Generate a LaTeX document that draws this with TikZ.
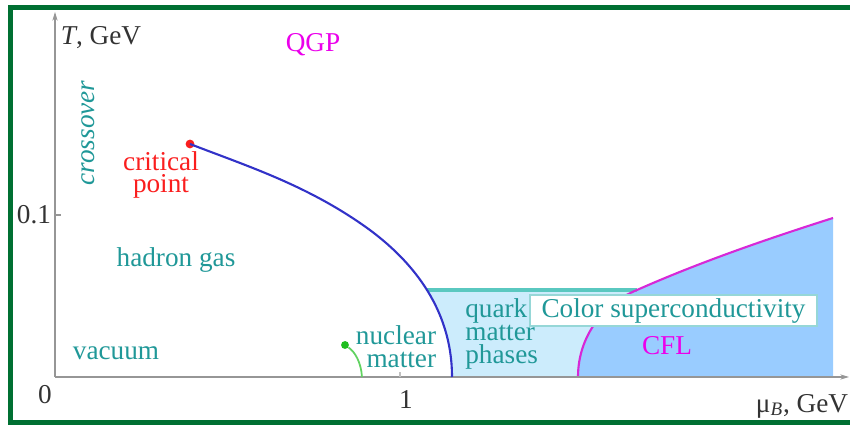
\documentclass[tikz,border=0pt]{standalone}
\usepackage{fontspec}
\setmainfont{Liberation Serif}
\usetikzlibrary{arrows.meta, positioning}

\definecolor{framegreen}{RGB}{0,112,50}
\definecolor{tealtxt}{RGB}{32,152,152}
\definecolor{qline}{RGB}{90,200,192}
\definecolor{qfill}{RGB}{204,236,252}
\definecolor{cflfill}{RGB}{153,204,255}
\definecolor{cflline}{RGB}{215,40,215}
\definecolor{qgptxt}{RGB}{235,0,235}
\definecolor{pblue}{RGB}{50,50,200}
\definecolor{cpred}{RGB}{250,30,30}
\definecolor{nmgreen}{RGB}{30,190,30}
\definecolor{axisgray}{RGB}{150,150,150}
\definecolor{boxline}{RGB}{150,215,215}

\begin{document}
\begin{tikzpicture}[
    x=0.02cm, y=-0.02cm,
    font=\fontsize{15.5}{13}\selectfont,
    lbl/.style={inner sep=0pt, align=center, text=tealtxt},
    tick/.style={inner sep=0pt, text=black!80},
    phase/.style={inner sep=0pt, text=qgptxt},
    axis/.style={draw=axisgray, line width=0.6pt, -{Stealth[length=5pt, width=3pt]}},
    border/.style={draw=framegreen, line width=0.1cm},
    scbox/.style={draw=boxline, fill=white, line width=0.7pt, inner sep=0pt,
                  minimum width=5.74cm, minimum height=0.62cm, text=tealtxt},
    dot/.style={circle, fill=#1, inner sep=0pt, minimum size=5pt}
  ]
  \useasboundingbox (0,0) rectangle (850,425);
  \clip (0,0) rectangle (850,425);

  \coordinate (o) at (55,377);
  \coordinate (bend) at (360,223);
  \coordinate (qtop) at (637,290);

  % phase regions
  \begin{scope}
    \clip (0,290) rectangle (700,377);
    \fill[qfill] (bend) .. controls (410,257) and (452,307) .. (452,377)
      -- (650,377) -- (650,223) -- cycle;
  \end{scope}
  \fill[cflfill] (578,377) .. controls (578,335) and (605,303) .. (qtop)
    .. controls (700,262) and (770,238) .. (833,218) -- (833,377) -- cycle;
  \draw[qline, line width=2.4pt] (427,290) -- (qtop);
  \draw[cflline, line width=1.2pt] (578,377) .. controls (578,335) and (605,303) .. (qtop)
    .. controls (700,262) and (770,238) .. (833,218);

  % axes
  \draw[axis] (o) -- (55,12);
  \draw[axis] (o) -- (849,377);
  \draw[axisgray, line width=0.6pt] (55,215) -- (61,215);
  \draw[axisgray!60, line width=0.6pt] (400,377) -- (400,372);

  % first order line
  \node[dot=cpred] (cp) at (190,144) {};
  \draw[pblue, line width=1.2pt] (cp.center) .. controls (247,166) and (303,184) .. (bend)
    .. controls (410,257) and (452,307) .. (452,377);

  % nuclear matter
  \node[dot=nmgreen, minimum size=4.5pt] (nm) at (345,345) {};
  \coordinate (nmend) at (362,377);
  \draw[nmgreen!70, line width=1pt] (nm) .. controls (355,352) and (361,362) .. (nmend);

  \node[scbox] (sc) at (673.5,310.5) {Color superconductivity};

  % labels
  \node[tick] (tlab) at (101,38) {\textit{T}, GeV};
  \node[tick] (mulab) at (802,406) {μ\textsubscript{\textit{B}}, GeV};
  \node[tick] (ylab) at (34,215) {0.1};
  \node[tick] (zero) at (45,395) {0};
  \node[tick] (one) at (406,400) {1};
  \node[phase] (qgp) at (313,45) {QGP};
  \node[phase] (cfl) at (667,346) {CFL};
  \node[lbl, rotate=90] (cross) at (88,133) {\textit{crossover}};
  \node[lbl, text=cpred] (cplab) at (161,175) {critical\\point};
  \node[lbl] (hadron) at (176,260) {hadron gas};
  \node[lbl] (vac) at (116,353) {vacuum};
  \node[lbl, align=right] (nmlab) at (396,347) {nuclear\\matter};
  \node[lbl, align=left, anchor=west] (qmp) at (465,334) {quark\\matter\\phases};

  \draw[border] (10.5,7.5) rectangle (880,422.5);
\end{tikzpicture}
\end{document}
